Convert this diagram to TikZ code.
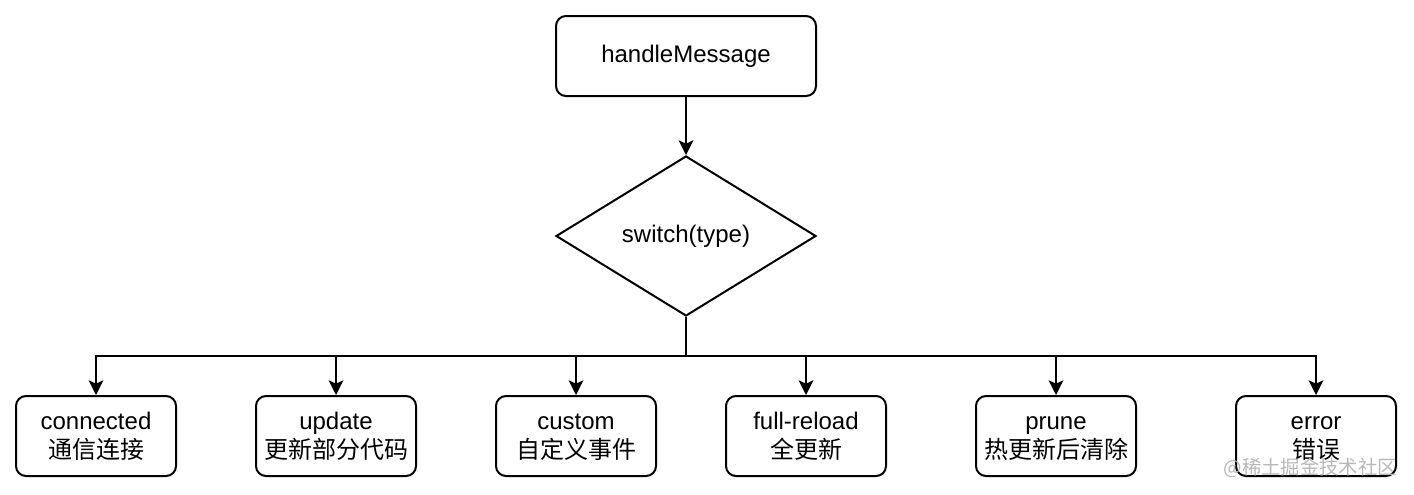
\documentclass[tikz,border=0pt]{standalone}
\usepackage{fontspec}
\setmainfont{Liberation Sans}
\newfontfamily\cjk{Noto Sans CJK SC}
\usetikzlibrary{arrows.meta,shapes.geometric}
\newcommand\myfix{\vphantom{Apdg}}
\begin{document}
\begin{tikzpicture}[x=0.75pt,y=-0.75pt,
  box/.style={draw,line width=1.5pt,rounded corners=7.5pt,minimum width=120pt,minimum height=60pt,inner sep=0pt,align=center,font=\fontsize{18}{22}\selectfont},
  topbox/.style={box,minimum width=195pt},
  decision/.style={draw,line width=1.5pt,diamond,minimum width=195pt,minimum height=120pt,inner sep=0pt,aspect=1.625,font=\fontsize{18}{22}\selectfont},
  conn/.style={line width=1.5pt,-{Stealth[length=11pt,width=11pt,inset=2.5pt]}}]
\useasboundingbox (0,0) rectangle (1414,494);
\fill[white] (0,0) rectangle (1414,494);
\node[topbox] (hm) at (686,56) {handleMessage};
\node[decision] (sw) at (686,236) {switch(type)};
\node[box] (b1) at (96,436) {\myfix connected\\{\cjk 通信连接}};
\node[box] (b2) at (336,436) {\myfix update\\{\cjk 更新部分代码}};
\node[box] (b3) at (576,436) {\myfix custom\\{\cjk 自定义事件}};
\node[box] (b4) at (806,436) {\myfix full-reload\\{\cjk 全更新}};
\node[box] (b5) at (1056,436) {\myfix prune\\{\cjk 热更新后清除}};
\node[box] (b6) at (1316,436) {\myfix error\\{\cjk 错误}};
\draw[conn] (hm.south) -- (sw.north);
\foreach \b in {b1,b2,b3,b4,b5,b6}{
  \draw[conn] (sw.south) -- ++(0,39) -| (\b.north);
}
\node[text=gray!55,font=\cjk\fontsize{14.5}{17}\selectfont,anchor=east,inner sep=0pt] (wm) at (1397,468) {@稀土掘金技术社区};
\end{tikzpicture}
\end{document}
